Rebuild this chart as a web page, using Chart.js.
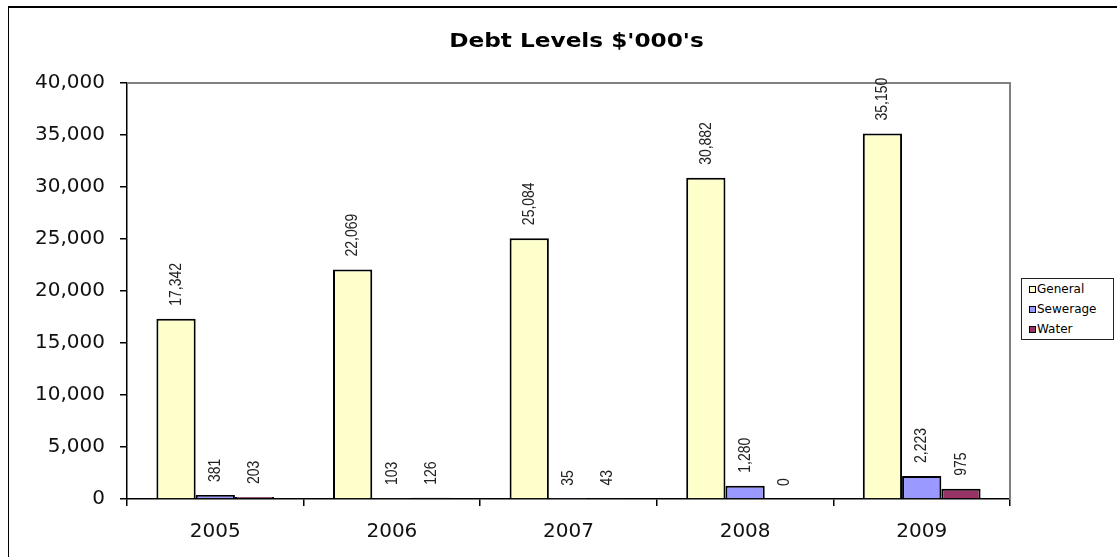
<!DOCTYPE html>
<html>
<head>
<meta charset="utf-8">
<script src="https://cdn.jsdelivr.net/npm/chart.js@4.4.1/dist/chart.umd.min.js"></script>
<style>
    html, body { margin: 0; padding: 0; background: #fff; }
    #wrap { position: relative; width: 1117px; height: 557px; overflow: hidden; }
    #frame { position: absolute; left: 8px; top: 6px; right: -4px; bottom: -4px; border: 1px solid #000; border-width: 2px 0 0 1px; pointer-events: none; }
    #legend { position: absolute; left: 1021px; top: 278px; width: 93px; height: 62px; border: 1px solid #222; background: #fff; font: 12px "DejaVu Sans", Verdana, sans-serif; padding: 0 0 0 7px; box-sizing: border-box; }
    #legend div { height: 20px; line-height: 20px; display: flex; align-items: center; }
    #legend span.sw { display: inline-block; width: 5px; height: 5px; border: 1.5px solid #000; margin-right: 1px; }
</style>
</head>
<body>
<div id="wrap">
    <canvas id="debtChart"></canvas>
    <div id="frame"></div>
    <div id="legend"></div>
</div>
<script>
// Chart data
const years = ['2005', '2006', '2007', '2008', '2009'];
const generalDebt = [17342, 22069, 25084, 30882, 35150];
const sewerageDebt = [381, 103, 35, 1280, 2223];
const waterDebt = [203, 126, 43, 0, 975];
const yTicks = [0, 5000, 10000, 15000, 20000, 25000, 30000, 35000, 40000];

const fmt = (v) => v.toLocaleString('en-US');
const axisFont = { family: '"DejaVu Sans", Verdana, sans-serif', size: 20 };

// Rotated value labels above each bar (narrow, like the original)
const valueLabels = {
    id: 'valueLabels',
    afterDatasetsDraw(chart) {
        const ctx = chart.ctx;
        ctx.save();
        ctx.font = '17px "Liberation Sans", Arial, sans-serif';
        ctx.fillStyle = '#222';
        ctx.textAlign = 'left';
        ctx.textBaseline = 'middle';
        chart.data.datasets.forEach((ds, i) => {
            chart.getDatasetMeta(i).data.forEach((bar, j) => {
                ctx.save();
                ctx.translate(bar.x, bar.y - 13);
                ctx.rotate(-Math.PI / 2);
                ctx.scale(0.82, 1);
                ctx.fillText(fmt(ds.data[j]), 0, 0);
                ctx.restore();
            });
        });
        ctx.restore();
    }
};

// Grey plot-area frame (top and right) plus the title
const plotFrame = {
    id: 'plotFrame',
    beforeDatasetsDraw(chart) {
        const { ctx, chartArea } = chart;
        ctx.save();
        ctx.strokeStyle = '#808080';
        ctx.lineWidth = 2;
        ctx.beginPath();
        ctx.moveTo(chartArea.left, chartArea.top);
        ctx.lineTo(chartArea.right, chartArea.top);
        ctx.lineTo(chartArea.right, chartArea.bottom);
        ctx.stroke();
        ctx.restore();
    },
    afterDraw(chart) {
        const { ctx, chartArea } = chart;
        ctx.save();
        ctx.font = 'bold 20px "DejaVu Sans", Verdana, sans-serif';
        ctx.fillStyle = '#000';
        ctx.textAlign = 'center';
        ctx.textBaseline = 'middle';
        ctx.translate((chartArea.left + chartArea.right) / 2 + 8, 42);
        ctx.scale(1.16, 1);
        ctx.fillText("Debt Levels $'000's", 0, 0);
        ctx.restore();
    }
};

const chart = new Chart(document.getElementById('debtChart'), {
    type: 'bar',
    data: {
        labels: years,
        datasets: [
            { label: 'General', data: generalDebt, backgroundColor: '#FFFFCC' },
            { label: 'Sewerage', data: sewerageDebt, backgroundColor: '#9999FF' },
            { label: 'Water', data: waterDebt, backgroundColor: '#993366' },
        ],
    },
    options: {
        responsive: true,
        maintainAspectRatio: false,
        animation: false,
        devicePixelRatio: 1,
        datasets: {
            bar: {
                borderColor: '#000',
                borderWidth: 2,
                borderSkipped: 'bottom',
                barPercentage: 1,
                categoryPercentage: 0.667,
            },
        },
        layout: { padding: { left: 0, top: 83, right: 107, bottom: 0 } },
        plugins: {
            legend: { display: false },
            title: { display: false },
            tooltip: { enabled: false },
        },
        scales: {
            x: {
                grid: { offset: true, drawOnChartArea: false, color: '#000', tickLength: 7, lineWidth: 1.5 },
                border: { color: '#000', width: 1.5 },
                ticks: { color: '#111', padding: 14, font: axisFont },
                afterFit(scale) { scale.height = 58; },
            },
            y: {
                min: 0,
                max: 40000,
                afterBuildTicks(scale) { scale.ticks = yTicks.map(v => ({ value: v })); },
                grid: { drawOnChartArea: false, color: '#000', tickLength: 7, lineWidth: 1.5 },
                border: { color: '#000', width: 1.5 },
                ticks: {
                    color: '#111',
                    padding: 15,
                    font: axisFont,
                    callback: (v) => fmt(v),
                },
                afterFit(scale) { scale.width = 127; },
            },
        },
    },
    plugins: [plotFrame, valueLabels],
});

// Legend box
const legendBox = document.getElementById('legend');
chart.data.datasets.forEach(ds => {
    const row = document.createElement('div');
    row.innerHTML = `<span class="sw" style="background:${ds.backgroundColor}"></span>${ds.label}`;
    legendBox.appendChild(row);
});
</script>
</body>
</html>
